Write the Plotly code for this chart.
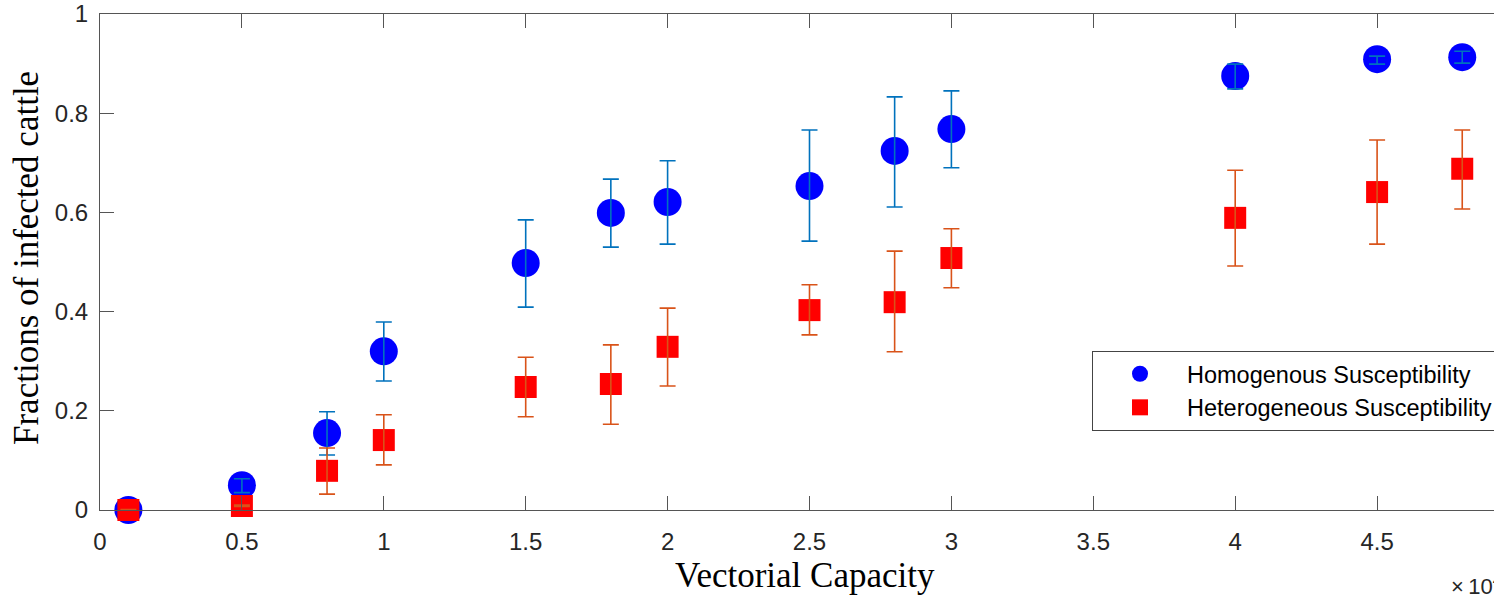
import plotly.graph_objects as go

# Data (x in units of 10^4)
x_vals = [0.1, 0.5, 0.8, 1.0, 1.5, 1.8, 2.0, 2.5, 2.8, 3.0, 4.0, 4.5, 4.8]

homo_y = [0.0, 0.050, 0.155, 0.320, 0.498, 0.599, 0.621, 0.653, 0.724, 0.768, 0.875, 0.909, 0.913]
homo_hi = [0.003, 0.063, 0.198, 0.379, 0.585, 0.667, 0.704, 0.766, 0.833, 0.845, 0.899, 0.915, 0.925]
homo_lo = [0.0, 0.035, 0.111, 0.260, 0.409, 0.530, 0.536, 0.542, 0.611, 0.690, 0.849, 0.899, 0.901]

hetero_y = [0.0, 0.008, 0.079, 0.141, 0.248, 0.254, 0.329, 0.403, 0.419, 0.508, 0.589, 0.641, 0.688]
hetero_hi = [0.001, 0.010, 0.125, 0.192, 0.308, 0.333, 0.407, 0.454, 0.522, 0.567, 0.685, 0.746, 0.766]
hetero_lo = [0.0, 0.007, 0.032, 0.091, 0.188, 0.173, 0.250, 0.353, 0.319, 0.448, 0.492, 0.536, 0.607]

x_ticks = [0, 0.5, 1, 1.5, 2, 2.5, 3, 3.5, 4, 4.5]
x_tick_labels = ["0", "0.5", "1", "1.5", "2", "2.5", "3", "3.5", "4", "4.5"]
y_ticks = [0, 0.2, 0.4, 0.6, 0.8, 1]
y_tick_labels = ["0", "0.2", "0.4", "0.6", "0.8", "1"]

series_names = ["Homogenous Susceptibility", "Heterogeneous Susceptibility"]

def err(y, hi, lo):
    return [h - v for v, h in zip(y, hi)], [v - l for v, l in zip(y, lo)]

fig = go.Figure()

specs = [
    (homo_y, homo_hi, homo_lo, "#0000FF", "#0072BD", "circle", 28, series_names[0]),
    (hetero_y, hetero_hi, hetero_lo, "#FF0000", "#D95319", "square", 22, series_names[1]),
]
for i, (y, hi, lo, mcol, ecol, sym, size, name) in enumerate(specs):
    up, dn = err(y, hi, lo)
    fig.add_trace(go.Scatter(
        x=x_vals, y=y, mode="markers", name=name, legendgroup=name,
        marker=dict(color=mcol, symbol=sym, size=size, line=dict(width=0)),
        cliponaxis=False, showlegend=True,
    ))
    fig.add_trace(go.Scatter(
        x=x_vals, y=y, mode="markers", name=name, legendgroup=name,
        marker=dict(color="rgba(0,0,0,0)", size=1),
        error_y=dict(type="data", symmetric=False, array=up, arrayminus=dn,
                     color=ecol, thickness=1.6, width=8),
        cliponaxis=False, showlegend=False, hoverinfo="skip",
    ))

x_right = 1394 / 283.8

fig.update_layout(
    width=1494, height=596,
    margin=dict(l=100, r=0, t=14, b=86, autoexpand=False),
    paper_bgcolor="white", plot_bgcolor="white",
    showlegend=True,
    legend=dict(
        x=(1092 - 100) / 1394, y=(510 - 351) / 496, xanchor="left", yanchor="top",
        bgcolor="white", bordercolor="#444", borderwidth=1,
        font=dict(family="Liberation Sans, Arial", size=23.5, color="#000"),
        itemwidth=84, tracegroupgap=0, traceorder="grouped",
    ),
    font=dict(family="Liberation Sans, Arial", color="#262626"),
)

fig.update_xaxes(
    range=[0, x_right], tickvals=x_ticks, ticktext=x_tick_labels,
    ticks="inside", ticklen=14, tickwidth=1, tickcolor="#555",
    showline=True, linecolor="#555", linewidth=1, mirror="ticks",
    showgrid=False, zeroline=False, automargin=False,
    ticklabeloverflow="allow",
    tickfont=dict(family="Liberation Sans, Arial", size=24, color="#262626"),
    ticklabelstandoff=10,
)
fig.update_yaxes(
    range=[0, 1], tickvals=y_ticks, ticktext=y_tick_labels,
    ticks="inside", ticklen=14, tickwidth=1, tickcolor="#555",
    showline=True, linecolor="#555", linewidth=1, mirror=False,
    showgrid=False, zeroline=False, automargin=False,
    ticklabeloverflow="allow",
    tickfont=dict(family="Liberation Sans, Arial", size=24, color="#262626"),
    ticklabelstandoff=6,
)

# Axis titles
fig.add_annotation(
    text="Vectorial Capacity", xref="paper", yref="paper",
    x=(805 - 100) / 1394, y=(510 - 575) / 496, xanchor="center", yanchor="middle",
    showarrow=False,
    font=dict(family="Liberation Serif, Times New Roman", size=35, color="#000"),
)
fig.add_annotation(
    text="Fractions of infected cattle", xref="paper", yref="paper",
    x=(26 - 100) / 1394, y=(510 - 258) / 496, xanchor="center", yanchor="middle",
    textangle=-90, showarrow=False,
    font=dict(family="Liberation Serif, Times New Roman", size=35, color="#000"),
)

fig.add_annotation(
    text="\u00d7\u200910<sup>4</sup>", xref="paper", yref="paper",
    x=(1449 - 100) / 1394, y=(510 - 601) / 496, xanchor="left", yanchor="bottom",
    showarrow=False, font=dict(family="Liberation Sans, Arial", size=22, color="#262626"),
)

fig.write_html(
    "out.html",
    config={"displayModeBar": False},
    post_script="document.body.style.margin='0';document.body.style.overflow='hidden';",
)
